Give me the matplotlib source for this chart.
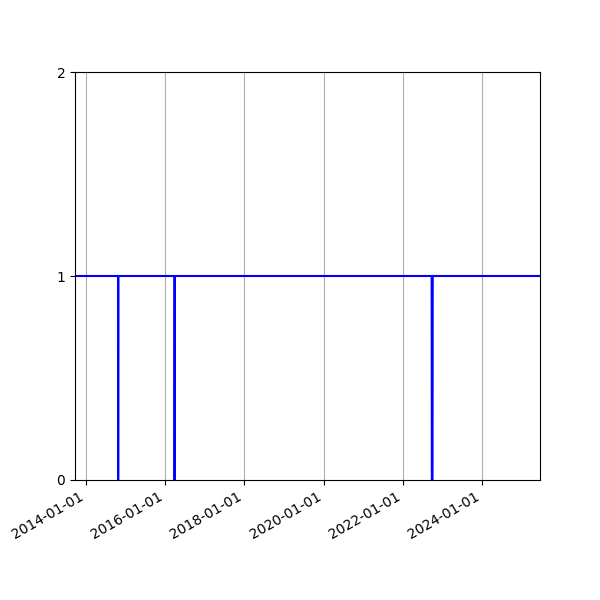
import numpy as np
import pandas as pd
import matplotlib
matplotlib.use("Agg")
import matplotlib.pyplot as plt
import matplotlib.dates as mdates

# daily availability flag: 1 = present, 0 = gap
start = "2013-09-22"
end = "2025-06-18"
gap_days = ["2014-10-25", "2016-03-28",
            "2022-09-24", "2022-09-25", "2022-09-26", "2022-09-27",
            "2022-09-28", "2022-09-29", "2022-09-30", "2022-10-01"]

dates = pd.date_range(start, end, freq="D")
values = np.ones(len(dates))
values[dates.isin(pd.to_datetime(gap_days))] = 0

fig, ax = plt.subplots(figsize=(6, 6), dpi=100)
ax.plot(dates, values, color="blue", lw=1.5)
ax.set_xlim(dates[0], dates[-1])
ax.set_ylim(0, 2)
ax.set_yticks([0, 1, 2])
ax.xaxis.set_major_locator(mdates.YearLocator(2))
ax.xaxis.set_major_formatter(mdates.DateFormatter("%Y-%m-%d"))
ax.grid(axis="x")
fig.autofmt_xdate()
fig.savefig("out.png")
